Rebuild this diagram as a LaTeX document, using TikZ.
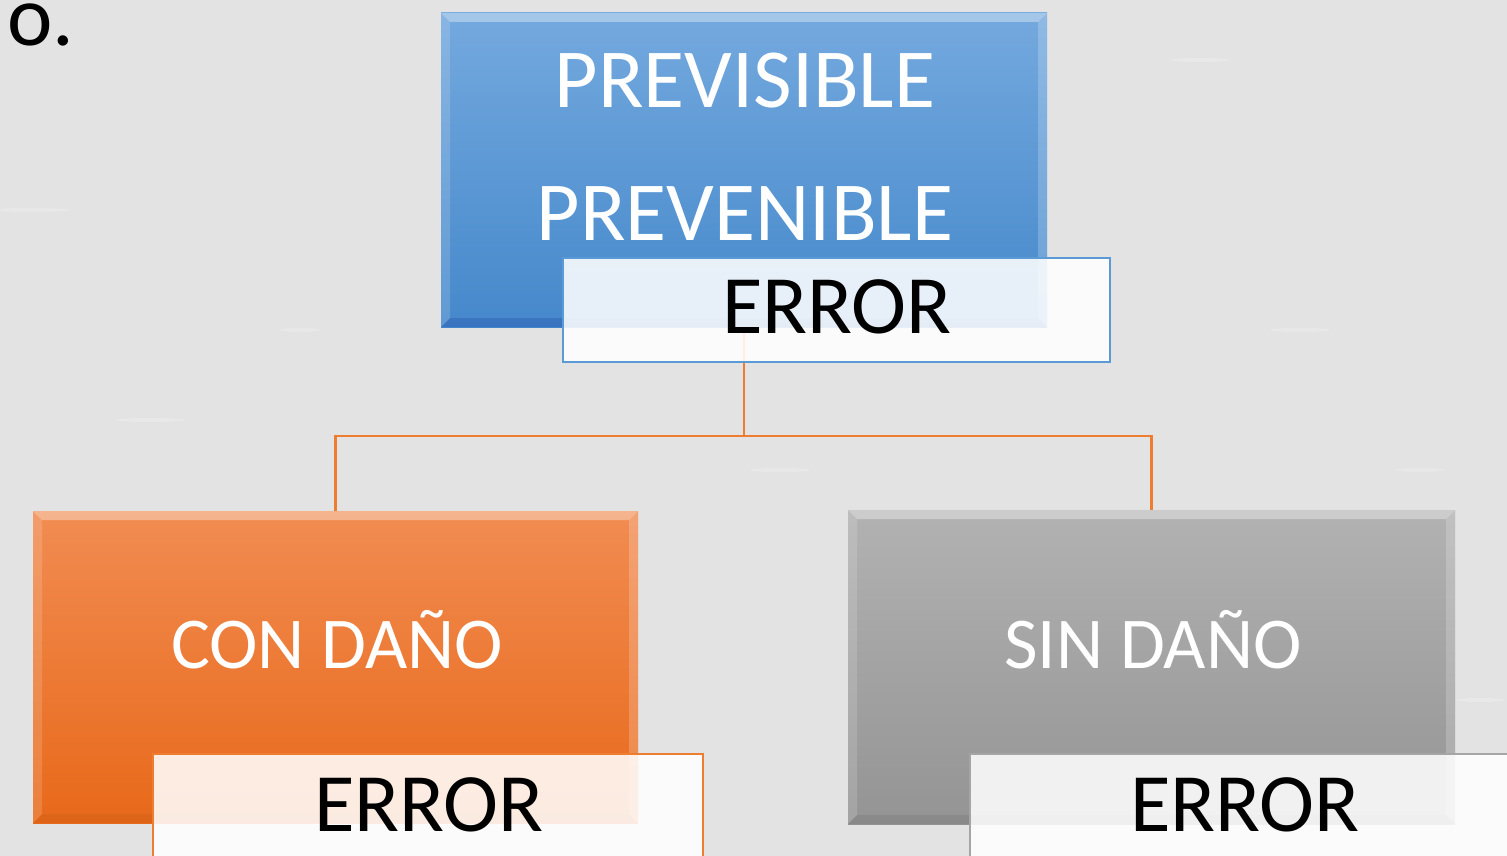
\documentclass[tikz,border=0pt]{standalone}
\usepackage{fontspec}
\setmainfont{Carlito}
\usetikzlibrary{calc}
\definecolor{bgc}{HTML}{E3E3E3}
\definecolor{blueT}{HTML}{74A9DE}
\definecolor{blueB}{HTML}{4588CB}
\definecolor{blueL}{HTML}{5B9BD5}
\definecolor{orT}{HTML}{F18C52}
\definecolor{orB}{HTML}{E8691A}
\definecolor{orL}{HTML}{ED7D31}
\definecolor{grT}{HTML}{B2B2B2}
\definecolor{grB}{HTML}{949494}
\definecolor{grL}{HTML}{A5A5A5}
\newcommand{\bevelit}[2]{%
  \fill[white,opacity=0.35] (#1.north west) -- (#1.north east) -- ([xshift=-9pt,yshift=-9pt]#1.north east) -- ([xshift=9pt,yshift=-9pt]#1.north west) -- cycle;
  \fill[white,opacity=0.15] (#1.north west) -- ([xshift=9pt,yshift=-9pt]#1.north west) -- ([xshift=9pt,yshift=9pt]#1.south west) -- (#1.south west) -- cycle;
  \fill[#2,opacity=0.15] (#1.south west) -- (#1.south east) -- ([xshift=-9pt,yshift=9pt]#1.south east) -- ([xshift=9pt,yshift=9pt]#1.south west) -- cycle;
  \fill[white,opacity=0.2] (#1.north east) -- ([xshift=-9pt,yshift=-9pt]#1.north east) -- ([xshift=-9pt,yshift=9pt]#1.south east) -- (#1.south east) -- cycle;
}
\tikzset{
  bigbox/.style={rectangle, inner sep=0, outer sep=0, draw=none},
  errbox/.style={rectangle, inner sep=0, outer sep=0, fill=white, fill opacity=0.87, line width=2pt, minimum width=#1, minimum height=104pt},
  wtxt/.style={inner sep=0, anchor=base, text=white, font=\fontsize{84}{100}\selectfont},
  stxt/.style={inner sep=0, anchor=base, text=white, font=\fontsize{73}{88}\selectfont},
  etxt/.style={inner sep=0, anchor=base, text=black, font=\fontsize{83}{100}\selectfont},
  conn/.style={draw=orL, line width=2.4pt}
}
\begin{document}
\begin{tikzpicture}[x=1pt,y=-1pt]
\fill[bgc] (0,0) rectangle (1507,856);
\useasboundingbox (0,0) rectangle (1507,856);
% faint texture
\foreach \a/\b/\c in {30/210/40,300/330/20,1300/330/30,700/90/25,1200/60/30,150/420/35,1420/470/25,780/470/30,60/630/20,1480/700/25}{
  \fill[white,opacity=0.2] (\a,\b) ellipse ({\c pt} and 2pt);
}
\node[inner sep=0, anchor=base west, font=\fontsize{86}{100}\selectfont] (prev) at (7,46) {o.};
% big boxes
\node[bigbox, minimum width=606pt, minimum height=314pt, top color=blueT, bottom color=blueB] (top) at (744,170) {};
\node[bigbox, minimum width=605pt, minimum height=312pt, top color=orT, bottom color=orB] (left) at (335.5,667) {};
\node[bigbox, minimum width=607pt, minimum height=314pt, top color=grT, bottom color=grB] (right) at (1151.5,667) {};
% connectors
\coordinate (j) at ($(top.south)+(0,109)$);
\draw[conn] (top.south) -- (j);
\draw[conn] (j) -| (left.north);
\draw[conn] (j) -| (right.north);
\bevelit{top}{blue!50!black}
\bevelit{left}{orB!70!black}
\bevelit{right}{gray!60!black}
% texts in big boxes
\node[wtxt] (t1) at (745,108) {PREVISIBLE};
\node[wtxt] (t2) at (745,240) {PREVENIBLE};
\node[stxt] (t3) at (337,668) {CON DAÑO};
\node[stxt] (t4) at (1153,668) {SIN DAÑO};
% error boxes
\node[errbox=547pt, draw=blueL] (topErr) at (836.5,310) {};
\node[errbox=550pt, draw=orL] (leftErr) at (428,806) {};
\node[errbox=550pt, draw=grL] (rightErr) at (1245,806) {};
\node[etxt] (e1) at (837,333) {ERROR};
\node[etxt] (e2) at (429,831) {ERROR};
\node[etxt] (e3) at (1245,831) {ERROR};
\end{tikzpicture}
\end{document}
